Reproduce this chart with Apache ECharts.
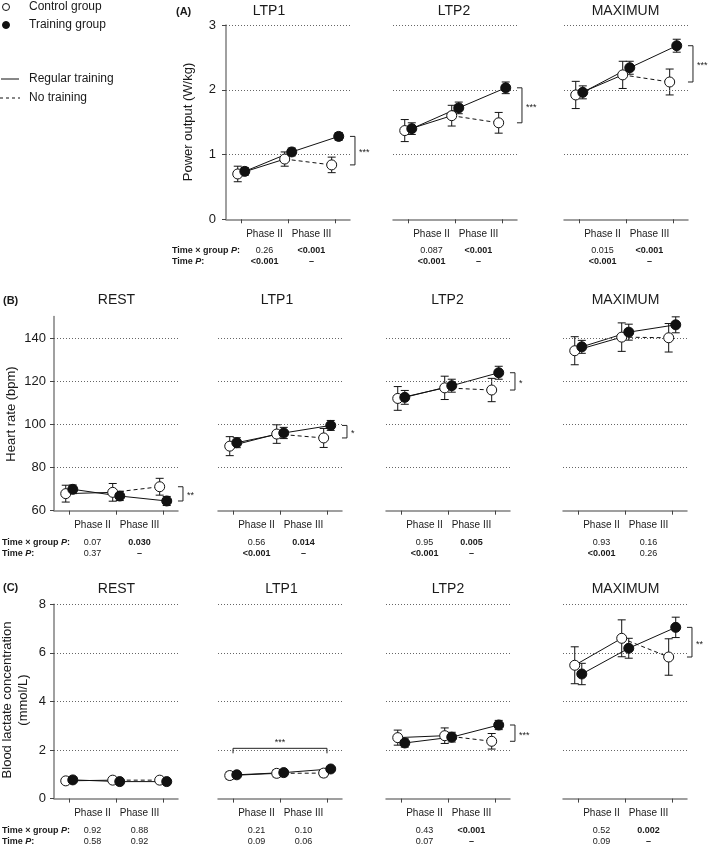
<!DOCTYPE html>
<html>
<head>
<meta charset="utf-8">
<script src="https://cdn.jsdelivr.net/npm/echarts@6.0.0/dist/echarts.min.js"></script>
<style>
html,body{margin:0;padding:0;background:#fff;}
#chart{width:709px;height:846px;}
</style>
</head>
<body>
<div id="chart"></div>
<script>
// ================= DATA =================
const phaseTickValues = [0, 1, 2];            // baseline, end of Phase II, end of Phase III
const phaseLabels = ['Phase II', 'Phase III'];
const statRowLabels = ['Time × group', 'Time'];
const legendLabels = ['Control group', 'Training group', 'Regular training', 'No training'];

// (A) Power output (W/kg)
const powerTicks = [0, 1, 2, 3];
const powerGridLines = [1, 2, 3];
const powerTitles = ['LTP1', 'LTP2', 'MAXIMUM'];
const powerLTP1Control = [0.70, 0.93, 0.84];
const powerLTP1ControlSD = [0.12, 0.11, 0.12];
const powerLTP1Training = [0.74, 1.04, 1.28];
const powerLTP1TrainingSD = [0.06, 0.06, 0.06];
const powerLTP1TimeGroupP = ['0.26', '!<0.001'];
const powerLTP1TimeP = ['!<0.001', '!–'];
const powerLTP2Control = [1.37, 1.60, 1.49];
const powerLTP2ControlSD = [0.17, 0.16, 0.16];
const powerLTP2Training = [1.40, 1.72, 2.03];
const powerLTP2TrainingSD = [0.09, 0.09, 0.09];
const powerLTP2TimeGroupP = ['0.087', '!<0.001'];
const powerLTP2TimeP = ['!<0.001', '!–'];
const powerMaxControl = [1.92, 2.23, 2.12];
const powerMaxControlSD = [0.21, 0.21, 0.20];
const powerMaxTraining = [1.96, 2.34, 2.68];
const powerMaxTrainingSD = [0.10, 0.10, 0.10];
const powerMaxTimeGroupP = ['0.015', '!<0.001'];
const powerMaxTimeP = ['!<0.001', '!–'];
const powerStars = ['***', '***', '***'];

// (B) Heart rate (bpm)
const hrTicks = [60, 80, 100, 120, 140];
const hrGridLines = [80, 100, 120, 140];
const hrTitles = ['REST', 'LTP1', 'LTP2', 'MAXIMUM'];
const hrRestControl = [67.9, 68.5, 71.1];
const hrRestControlSD = [3.9, 4.1, 3.9];
const hrRestTraining = [69.9, 66.8, 64.5];
const hrRestTrainingSD = [2.0, 2.1, 2.1];
const hrRestTimeGroupP = ['0.07', '!0.030'];
const hrRestTimeP = ['0.37', '!–'];
const hrLTP1Control = [89.9, 95.5, 93.7];
const hrLTP1ControlSD = [4.4, 4.3, 4.4];
const hrLTP1Training = [91.5, 96.0, 99.5];
const hrLTP1TrainingSD = [2.3, 2.6, 2.3];
const hrLTP1TimeGroupP = ['0.56', '!0.014'];
const hrLTP1TimeP = ['!<0.001', '!–'];
const hrLTP2Control = [112.0, 116.9, 115.9];
const hrLTP2ControlSD = [5.5, 5.4, 5.4];
const hrLTP2Training = [112.5, 117.9, 123.9];
const hrLTP2TrainingSD = [3.2, 3.0, 3.0];
const hrLTP2TimeGroupP = ['0.95', '!0.005'];
const hrLTP2TimeP = ['!<0.001', '!–'];
const hrMaxControl = [134.1, 140.4, 140.1];
const hrMaxControlSD = [6.5, 6.6, 6.6];
const hrMaxTraining = [135.9, 142.7, 146.1];
const hrMaxTrainingSD = [3.0, 3.7, 3.7];
const hrMaxTimeGroupP = ['0.93', '0.16'];
const hrMaxTimeP = ['!<0.001', '0.26'];
const hrStars = ['**', '*', '*', ''];

// (C) Blood lactate concentration (mmol/L)
const lacTicks = [0, 2, 4, 6, 8];
const lacGridLines = [2, 4, 6, 8];
const lacTitles = ['REST', 'LTP1', 'LTP2', 'MAXIMUM'];
const lacRestControl = [0.73, 0.76, 0.76];
const lacRestControlSD = [0.05, 0.05, 0.05];
const lacRestTraining = [0.77, 0.70, 0.70];
const lacRestTrainingSD = [0.04, 0.04, 0.04];
const lacRestTimeGroupP = ['0.92', '0.88'];
const lacRestTimeP = ['0.58', '0.92'];
const lacLTP1Control = [0.95, 1.04, 1.05];
const lacLTP1ControlSD = [0.15, 0.15, 0.15];
const lacLTP1Training = [0.98, 1.07, 1.22];
const lacLTP1TrainingSD = [0.07, 0.07, 0.08];
const lacLTP1TimeGroupP = ['0.21', '0.10'];
const lacLTP1TimeP = ['0.09', '0.06'];
const lacLTP1TimeBracket = [0, 2, 2.07];   // from baseline to Phase III, at this level
const lacLTP2Control = [2.51, 2.59, 2.36];
const lacLTP2ControlSD = [0.31, 0.32, 0.32];
const lacLTP2Training = [2.29, 2.53, 3.03];
const lacLTP2TrainingSD = [0.17, 0.20, 0.19];
const lacLTP2TimeGroupP = ['0.43', '!<0.001'];
const lacLTP2TimeP = ['0.07', '!–'];
const lacMaxControl = [5.49, 6.60, 5.83];
const lacMaxControlSD = [0.76, 0.76, 0.75];
const lacMaxTraining = [5.13, 6.19, 7.05];
const lacMaxTrainingSD = [0.44, 0.41, 0.42];
const lacMaxTimeGroupP = ['0.52', '!0.002'];
const lacMaxTimeP = ['0.09', '!–'];
const lacStars = ['', '***', '***', '**'];

// ================= LAYOUT / STYLE =================
const FONT = '"Liberation Sans", Arial, Helvetica, sans-serif';
const INK = '#1a1a1a';
const AXIS = '#808080';
const CTRL_DX = -0.07, TRAIN_DX = 0.08;
const X_MIN = -0.32, X_MAX = 2.32;
const PANEL_W = 124, PANEL_H = 194.3;

const rows = [
  { top: 25, yMin: 0, yMax: 3, ticks: powerTicks, gridLines: powerGridLines, labelMargin: 10,
    lefts: [226, 393, 564], titleX: [269, 454, 625.5], titleY: 11,
    letter: '(A)', letterX: 176, letterY: 12, statX: 172,
    yName: 'Power output (W/kg)', yNameX: 188, yNameY: 122,
    panels: [
      { title: powerTitles[0], ctrl: powerLTP1Control, ctrlSD: powerLTP1ControlSD, train: powerLTP1Training, trainSD: powerLTP1TrainingSD, tg: powerLTP1TimeGroupP, t: powerLTP1TimeP, star: powerStars[0] },
      { title: powerTitles[1], ctrl: powerLTP2Control, ctrlSD: powerLTP2ControlSD, train: powerLTP2Training, trainSD: powerLTP2TrainingSD, tg: powerLTP2TimeGroupP, t: powerLTP2TimeP, star: powerStars[1] },
      { title: powerTitles[2], ctrl: powerMaxControl, ctrlSD: powerMaxControlSD, train: powerMaxTraining, trainSD: powerMaxTrainingSD, tg: powerMaxTimeGroupP, t: powerMaxTimeP, star: powerStars[2] }
    ] },
  { top: 316.4, yMin: 60, yMax: 150, ticks: hrTicks, gridLines: hrGridLines, labelMargin: 8,
    lefts: [54, 218, 386, 563], titleX: [116.5, 277, 447.5, 625.5], titleY: 300,
    letter: '(B)', letterX: 3, letterY: 301, statX: 2,
    yName: 'Heart rate (bpm)', yNameX: 11, yNameY: 414,
    panels: [
      { title: hrTitles[0], ctrl: hrRestControl, ctrlSD: hrRestControlSD, train: hrRestTraining, trainSD: hrRestTrainingSD, tg: hrRestTimeGroupP, t: hrRestTimeP, star: hrStars[0] },
      { title: hrTitles[1], ctrl: hrLTP1Control, ctrlSD: hrLTP1ControlSD, train: hrLTP1Training, trainSD: hrLTP1TrainingSD, tg: hrLTP1TimeGroupP, t: hrLTP1TimeP, star: hrStars[1] },
      { title: hrTitles[2], ctrl: hrLTP2Control, ctrlSD: hrLTP2ControlSD, train: hrLTP2Training, trainSD: hrLTP2TrainingSD, tg: hrLTP2TimeGroupP, t: hrLTP2TimeP, star: hrStars[2] },
      { title: hrTitles[3], ctrl: hrMaxControl, ctrlSD: hrMaxControlSD, train: hrMaxTraining, trainSD: hrMaxTrainingSD, tg: hrMaxTimeGroupP, t: hrMaxTimeP, star: hrStars[3] }
    ] },
  { top: 604.3, yMin: 0, yMax: 8, ticks: lacTicks, gridLines: lacGridLines, labelMargin: 8,
    lefts: [54, 218, 386, 563], titleX: [116.5, 281.5, 448, 625.5], titleY: 589,
    letter: '(C)', letterX: 3, letterY: 588, statX: 2,
    yName: 'Blood lactate concentration\n(mmol/L)', yNameX: 15, yNameY: 700,
    panels: [
      { title: lacTitles[0], ctrl: lacRestControl, ctrlSD: lacRestControlSD, train: lacRestTraining, trainSD: lacRestTrainingSD, tg: lacRestTimeGroupP, t: lacRestTimeP, star: lacStars[0] },
      { title: lacTitles[1], ctrl: lacLTP1Control, ctrlSD: lacLTP1ControlSD, train: lacLTP1Training, trainSD: lacLTP1TrainingSD, tg: lacLTP1TimeGroupP, t: lacLTP1TimeP, star: lacStars[1], hBracket: lacLTP1TimeBracket },
      { title: lacTitles[2], ctrl: lacLTP2Control, ctrlSD: lacLTP2ControlSD, train: lacLTP2Training, trainSD: lacLTP2TrainingSD, tg: lacLTP2TimeGroupP, t: lacLTP2TimeP, star: lacStars[2] },
      { title: lacTitles[3], ctrl: lacMaxControl, ctrlSD: lacMaxControlSD, train: lacMaxTraining, trainSD: lacMaxTrainingSD, tg: lacMaxTimeGroupP, t: lacMaxTimeP, star: lacStars[3] }
    ] }
];

// ================= BUILD =================
function statToken(s) {
  return s.charAt(0) === '!' ? '{b|' + s.slice(1) + '}' : '{n|' + s + '}';
}
const richX = {
  p: { fontSize: 10, lineHeight: 14, color: INK, fontFamily: FONT },
  g: { fontSize: 4, lineHeight: 4, color: INK, fontFamily: FONT },
  n: { fontSize: 9, lineHeight: 11, color: INK, fontFamily: FONT },
  b: { fontSize: 9, lineHeight: 11, color: INK, fontFamily: FONT, fontWeight: 'bold' }
};

function errRender(params, api) {
  const x = api.value(0), lo = api.value(1), hi = api.value(2);
  const a = api.coord([x, hi]), b = api.coord([x, lo]);
  const w = 4;
  const st = { stroke: '#111', lineWidth: 1 };
  return { type: 'group', children: [
    { type: 'line', shape: { x1: a[0], y1: a[1], x2: b[0], y2: b[1] }, style: st },
    { type: 'line', shape: { x1: a[0] - w, y1: a[1], x2: a[0] + w, y2: a[1] }, style: st },
    { type: 'line', shape: { x1: b[0] - w, y1: b[1], x2: b[0] + w, y2: b[1] }, style: st }
  ] };
}

function vBracketRender(label) {
  return function (params, api) {
    const top = api.coord([api.value(0), api.value(1)]);
    const bot = api.coord([api.value(0), api.value(2)]);
    const x = top[0] + 20;
    return { type: 'group', children: [
      { type: 'polyline', shape: { points: [[x - 5, top[1]], [x, top[1]], [x, bot[1]], [x - 5, bot[1]]] },
        style: { stroke: '#222', lineWidth: 1, fill: null } },
      { type: 'text', x: x + 4, y: (top[1] + bot[1]) / 2 + 2,
        style: { text: label, fill: INK, font: '9px ' + FONT, textAlign: 'left', textVerticalAlign: 'middle', align: 'left', verticalAlign: 'middle' } }
    ] };
  };
}

function hBracketRender(label) {
  return function (params, api) {
    const a = api.coord([api.value(0), api.value(2)]);
    const b = api.coord([api.value(1), api.value(2)]);
    return { type: 'group', children: [
      { type: 'polyline', shape: { points: [[a[0], a[1] + 5], [a[0], a[1]], [b[0], a[1]], [b[0], a[1] + 5]] },
        style: { stroke: '#222', lineWidth: 1, fill: null } },
      { type: 'text', x: (a[0] + b[0]) / 2, y: a[1] - 6,
        style: { text: label, fill: INK, font: '9px ' + FONT, textAlign: 'center', textVerticalAlign: 'middle', align: 'center', verticalAlign: 'middle' } }
    ] };
  };
}

const option = { animation: false, backgroundColor: '#fff', grid: [], xAxis: [], yAxis: [], series: [], graphic: [] };
const G = option.graphic;

function txt(x, y, text, font, align, extra) {
  const el = { type: 'text', x: x, y: y, silent: true,
    style: Object.assign({ text: text, fill: INK, font: font, textAlign: align || 'left', textVerticalAlign: 'middle', align: align || 'left', verticalAlign: 'middle' }, extra || {}) };
  G.push(el);
  return el;
}

let gi = 0;
rows.forEach(row => {
  const axisY = row.top + PANEL_H;
  row.panels.forEach((p, k) => {
    const first = k === 0;
    option.grid.push({ left: row.lefts[k], top: row.top, width: PANEL_W, height: PANEL_H });
    option.xAxis.push({
      gridIndex: gi, type: 'value', min: X_MIN, max: X_MAX,
      axisLine: { show: true, onZero: false, lineStyle: { color: AXIS, width: 1.5 } },
      axisTick: { show: true, customValues: phaseTickValues, length: 4, lineStyle: { color: '#444', width: 1 } },
      axisLabel: { show: true, customValues: [0.5, 1.5], margin: 8, rich: richX,
        formatter: function (v) {
          const j = v < 1 ? 0 : 1;
          return '{p|' + phaseLabels[j] + '}\n{g| }\n' + statToken(p.tg[j]) + '\n' + statToken(p.t[j]);
        } },
      splitLine: { show: false }
    });
    option.yAxis.push({
      gridIndex: gi, type: 'value', min: row.yMin, max: row.yMax, show: first,
      axisLine: { show: true, onZero: false, lineStyle: { color: AXIS, width: 1.5 } },
      axisTick: { show: true, customValues: row.ticks, length: 4, lineStyle: { color: '#444', width: 1 } },
      axisLabel: { show: true, customValues: row.ticks, fontSize: 13, color: INK, fontFamily: FONT, margin: row.labelMargin },
      splitLine: { show: false }
    });

    const ctrlPts = p.ctrl.map((v, i) => [phaseTickValues[i] + CTRL_DX, v]);
    const trainPts = p.train.map((v, i) => [phaseTickValues[i] + TRAIN_DX, v]);
    const ax = { xAxisIndex: gi, yAxisIndex: gi };

    // dotted horizontal gridlines
    option.series.push(Object.assign({ type: 'line', data: [], silent: true, z: 1,
      markLine: { silent: true, symbol: 'none', animation: false, label: { show: false },
        lineStyle: { type: [1, 2], color: '#666', width: 1 },
        emphasis: { disabled: true },
        data: row.gridLines.map(v => ({ yAxis: v })) } }, ax));

    // error bars
    option.series.push(Object.assign({ type: 'custom', z: 3, silent: true, renderItem: errRender, encode: { x: 0, y: [1, 2] },
      data: p.ctrl.map((v, i) => [phaseTickValues[i] + CTRL_DX, v - p.ctrlSD[i], v + p.ctrlSD[i]]) }, ax));
    option.series.push(Object.assign({ type: 'custom', z: 3, silent: true, renderItem: errRender, encode: { x: 0, y: [1, 2] },
      data: p.train.map((v, i) => [phaseTickValues[i] + TRAIN_DX, v - p.trainSD[i], v + p.trainSD[i]]) }, ax));

    // connecting lines
    option.series.push(Object.assign({ type: 'line', z: 4, silent: true, symbol: 'none', data: ctrlPts.slice(0, 2),
      lineStyle: { color: '#111', width: 1 } }, ax));
    option.series.push(Object.assign({ type: 'line', z: 4, silent: true, symbol: 'none', data: ctrlPts.slice(1),
      lineStyle: { color: '#111', width: 1, type: [4, 3] } }, ax));
    option.series.push(Object.assign({ type: 'line', z: 4, silent: true, symbol: 'none', data: trainPts,
      lineStyle: { color: '#111', width: 1 } }, ax));

    // markers
    option.series.push(Object.assign({ type: 'scatter', z: 5, silent: true, symbol: 'circle', symbolSize: 10, data: ctrlPts,
      itemStyle: { color: '#fff', borderColor: '#111', borderWidth: 1, opacity: 1 } }, ax));
    option.series.push(Object.assign({ type: 'scatter', z: 6, silent: true, symbol: 'circle', symbolSize: 10, data: trainPts,
      itemStyle: { color: '#111', borderColor: '#111', borderWidth: 1, opacity: 1 } }, ax));

    // significance brackets
    if (p.star) {
      if (p.hBracket) {
        option.series.push(Object.assign({ type: 'custom', z: 7, silent: true, renderItem: hBracketRender(p.star),
          data: [p.hBracket] }, ax));
      } else {
        option.series.push(Object.assign({ type: 'custom', z: 7, silent: true, renderItem: vBracketRender(p.star),
          data: [[phaseTickValues[2], p.train[2], p.ctrl[2]]] }, ax));
      }
    }

    // panel title
    txt(row.titleX[k], row.titleY, p.title, '14px ' + FONT, 'center');
    gi++;
  });

  // row letter, y-axis name, stat row labels
  txt(row.letterX, row.letterY, row.letter, 'bold 11px ' + FONT, 'left');
  const yn = txt(row.yNameX, row.yNameY, row.yName, '13px ' + FONT, 'center', { lineHeight: 16 });
  yn.rotation = Math.PI / 2;
  const richRow = {
    b: { fontSize: 9, fontWeight: 'bold', fontFamily: FONT, fill: INK, color: INK },
    i: { fontSize: 9, fontWeight: 'bold', fontStyle: 'italic', fontFamily: FONT, fill: INK, color: INK }
  };
  [31.5, 42.5].forEach((dy, r) => {
    txt(row.statX, axisY + dy, '{b|' + statRowLabels[r] + ' }{i|P}{b|:}', '9px ' + FONT, 'left', { rich: richRow });
  });
});

// legend
G.push({ type: 'circle', silent: true, shape: { cx: 6, cy: 7, r: 3.5 }, style: { fill: '#fff', stroke: '#111', lineWidth: 1 } });
G.push({ type: 'circle', silent: true, shape: { cx: 6, cy: 25, r: 3.5 }, style: { fill: '#111', stroke: '#111', lineWidth: 1 } });
G.push({ type: 'line', silent: true, shape: { x1: 1, y1: 79, x2: 19, y2: 79 }, style: { stroke: '#111', lineWidth: 1 } });
G.push({ type: 'line', silent: true, shape: { x1: 0, y1: 98, x2: 20, y2: 98 }, style: { stroke: '#111', lineWidth: 1, lineDash: [3, 3] } });
txt(29, 7, legendLabels[0], '12px ' + FONT, 'left');
txt(29, 25, legendLabels[1], '12px ' + FONT, 'left');
txt(29, 79, legendLabels[2], '12px ' + FONT, 'left');
txt(29, 98, legendLabels[3], '12px ' + FONT, 'left');

const chart = echarts.init(document.getElementById('chart'), null, { renderer: 'canvas' });
chart.setOption(option);
</script>
</body>
</html>
